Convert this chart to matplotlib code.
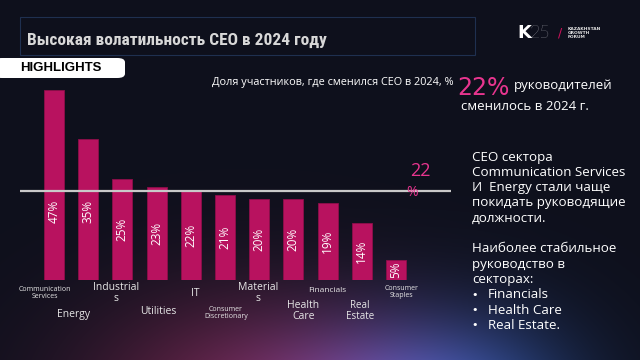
import numpy as np
import matplotlib
matplotlib.use("Agg")
import matplotlib.pyplot as plt
from matplotlib import font_manager
from matplotlib.patches import FancyBboxPatch, Rectangle

# ----- data -----
sectors = ["Communication\nServices", "Energy", "Industrial\ns", "Utilities", "IT",
           "Consumer\nDiscretionary", "Material\ns", "Health\nCare", "Financials",
           "Real\nEstate", "Consumer\nStaples"]
share = [47, 35, 25, 23, 22, 21, 20, 20, 19, 14, 5]
average = 22

# label placement (pixel offsets from bar foot) and size, just styling
label_dx = [-9, -15, -6, 2, 4, 1, -1, 10, 0, -2, 6]
label_dy = [13, 35, 13, 32, 13, 33, 13, 31, 10, 31, 12]
label_fs = [5, 7.5, 7.5, 7.5, 7.5, 5, 7.5, 7.5, 6, 7, 5]

W, H = 640, 360
BAR = "#b8125f"
PINK = "#e8358f"
HAND = "Open Sans"


def pick_font(names, default="DejaVu Sans"):
    for n in names:
        try:
            font_manager.findfont(n, fallback_to_default=False)
            return n
        except Exception:
            pass
    return default


TITLE_FONT = pick_font(["Liberation Sans Narrow", "Roboto Condensed"], "Liberation Sans")


def px(x, y):
    # pixel (from top-left) -> figure fraction
    return x / W, 1 - y / H


def ftext(x, y, s, **kw):
    fx, fy = px(x, y)
    return fig.text(fx, fy, s, **kw)


fig = plt.figure(figsize=(6.4, 3.6), dpi=100)

# ---------- background ----------
yy, xx = np.mgrid[0:H, 0:W].astype(float)
img = np.zeros((H, W, 3))
img[:] = np.array([14, 16, 28]) / 255
g1 = np.exp(-(((xx - 250) / 170) ** 2 + ((yy - 400) / 110) ** 2))
g2 = np.exp(-(((xx - 460) / 120) ** 2 + ((yy - 410) / 95) ** 2))
g3 = np.exp(-(((xx - 360) / 120) ** 2 + ((yy - 400) / 80) ** 2))
img += g1[..., None] * (np.array([85, 18, 40]) / 255)
img += g2[..., None] * (np.array([22, 60, 115]) / 255)
img += g3[..., None] * (np.array([35, 25, 60]) / 255)
img = np.clip(img, 0, 1)
bg = fig.add_axes([0, 0, 1, 1], zorder=-10)
bg.imshow(img, aspect="auto", extent=[0, W, H, 0])
bg.set_axis_off()

# ---------- chart ----------
ax = fig.add_axes([20 / W, 80 / H, 431 / W, 202 / H])
ax.set_facecolor("none")
x = np.arange(len(share))
ax.bar(x, share, width=0.585, color=BAR, edgecolor="#8e0e4a", linewidth=0.6, zorder=2)
ax.axhline(average, color="#c9c9c9", lw=1.6, zorder=3)
ax.set_xlim(-0.994, 11.61)
ax.set_ylim(0, 50)
ax.set_axis_off()

for i, v in enumerate(share):
    ax.text(i, min(v / 2, 17), f"{v}%", rotation=90, ha="center", va="center",
            color="white", fontsize=8.5, family=HAND, zorder=4)
    ax.annotate(sectors[i], xy=(i, 0), xycoords="data",
                xytext=(label_dx[i] * 0.72, -label_dy[i] * 0.72), textcoords="offset points",
                ha="center", va="center", color="#e6e6e6", fontsize=label_fs[i],
                family=HAND, linespacing=1.0, annotation_clip=False)

# average marker
ftext(420, 171, f"{average}", color=PINK, fontsize=13, family=HAND, ha="center", va="center")
ftext(412, 193, "%", color=PINK, fontsize=10, family=HAND, ha="center", va="center")

# ---------- header ----------
fig.patches.append(Rectangle(px(20, 55), 455 / W, 38 / H, transform=fig.transFigure,
                             facecolor="none", edgecolor="#1f3050", lw=0.8))
ftext(27, 40, "Высокая волатильность CEO в 2024 году", color="#d8d8d8", fontsize=12.5,
      fontweight="bold", family=TITLE_FONT, ha="left", va="center")

ftext(517, 33, "K", color="white", fontsize=13, fontweight="bold", family="DejaVu Sans",
      ha="left", va="center")
ftext(530, 33, "25", color="#d0d0d8", fontsize=13, fontweight="light", family="Lato",
      ha="left", va="center")
ftext(560, 33, "/", color="#d0105a", fontsize=9, ha="center", va="center")
ftext(568, 33, "KAZAKHSTAN\nGROWTH\nFORUM", color="#e0e0e0", fontsize=3.2,
      fontweight="bold", ha="left", va="center", linespacing=0.95)

fig.patches.append(FancyBboxPatch(px(-6, 78), 131 / W, 20 / H, transform=fig.transFigure,
                                  boxstyle="round,pad=0,rounding_size=0.012",
                                  facecolor="white", edgecolor="none"))
ftext(20, 68, "HIGHLIGHTS", color="black", fontsize=9.5, fontweight="bold",
      family="Liberation Sans", ha="left", va="center")

# ---------- subtitle and headline ----------
ftext(212, 82, "Доля участников, где сменился CEO в 2024, %", color="white", fontsize=7.8,
      family=HAND, ha="left", va="center")
ftext(457, 88, "22%", color=PINK, fontsize=17, family="DejaVu Sans", ha="left", va="center")
ftext(514, 85, "руководителей", color="white", fontsize=9.5, family=HAND, ha="left", va="center")
ftext(461, 106, "сменилось в 2024 г.", color="white", fontsize=9.5, family=HAND,
      ha="left", va="center")

# ---------- commentary ----------
lines = ["CEO сектора", "Communication Services", "И  Energy стали чаще",
         "покидать руководящие", "должности.", "",
         "Наиболее стабильное", "руководство в", "секторах:"]
bullets = ["Financials", "Health Care", "Real Estate."]
for k, s in enumerate(lines):
    ftext(472, 157 + 15.3 * k, s, color="white", fontsize=9.6, family=HAND,
          ha="left", va="center")
for k, s in enumerate(bullets):
    yb = 157 + 15.3 * (len(lines) + k)
    ftext(475, yb, "•", color="white", fontsize=8, ha="center", va="center")
    ftext(488, yb, s, color="white", fontsize=9.6, family=HAND, ha="left", va="center")

fig.savefig("out.png", dpi=100)
